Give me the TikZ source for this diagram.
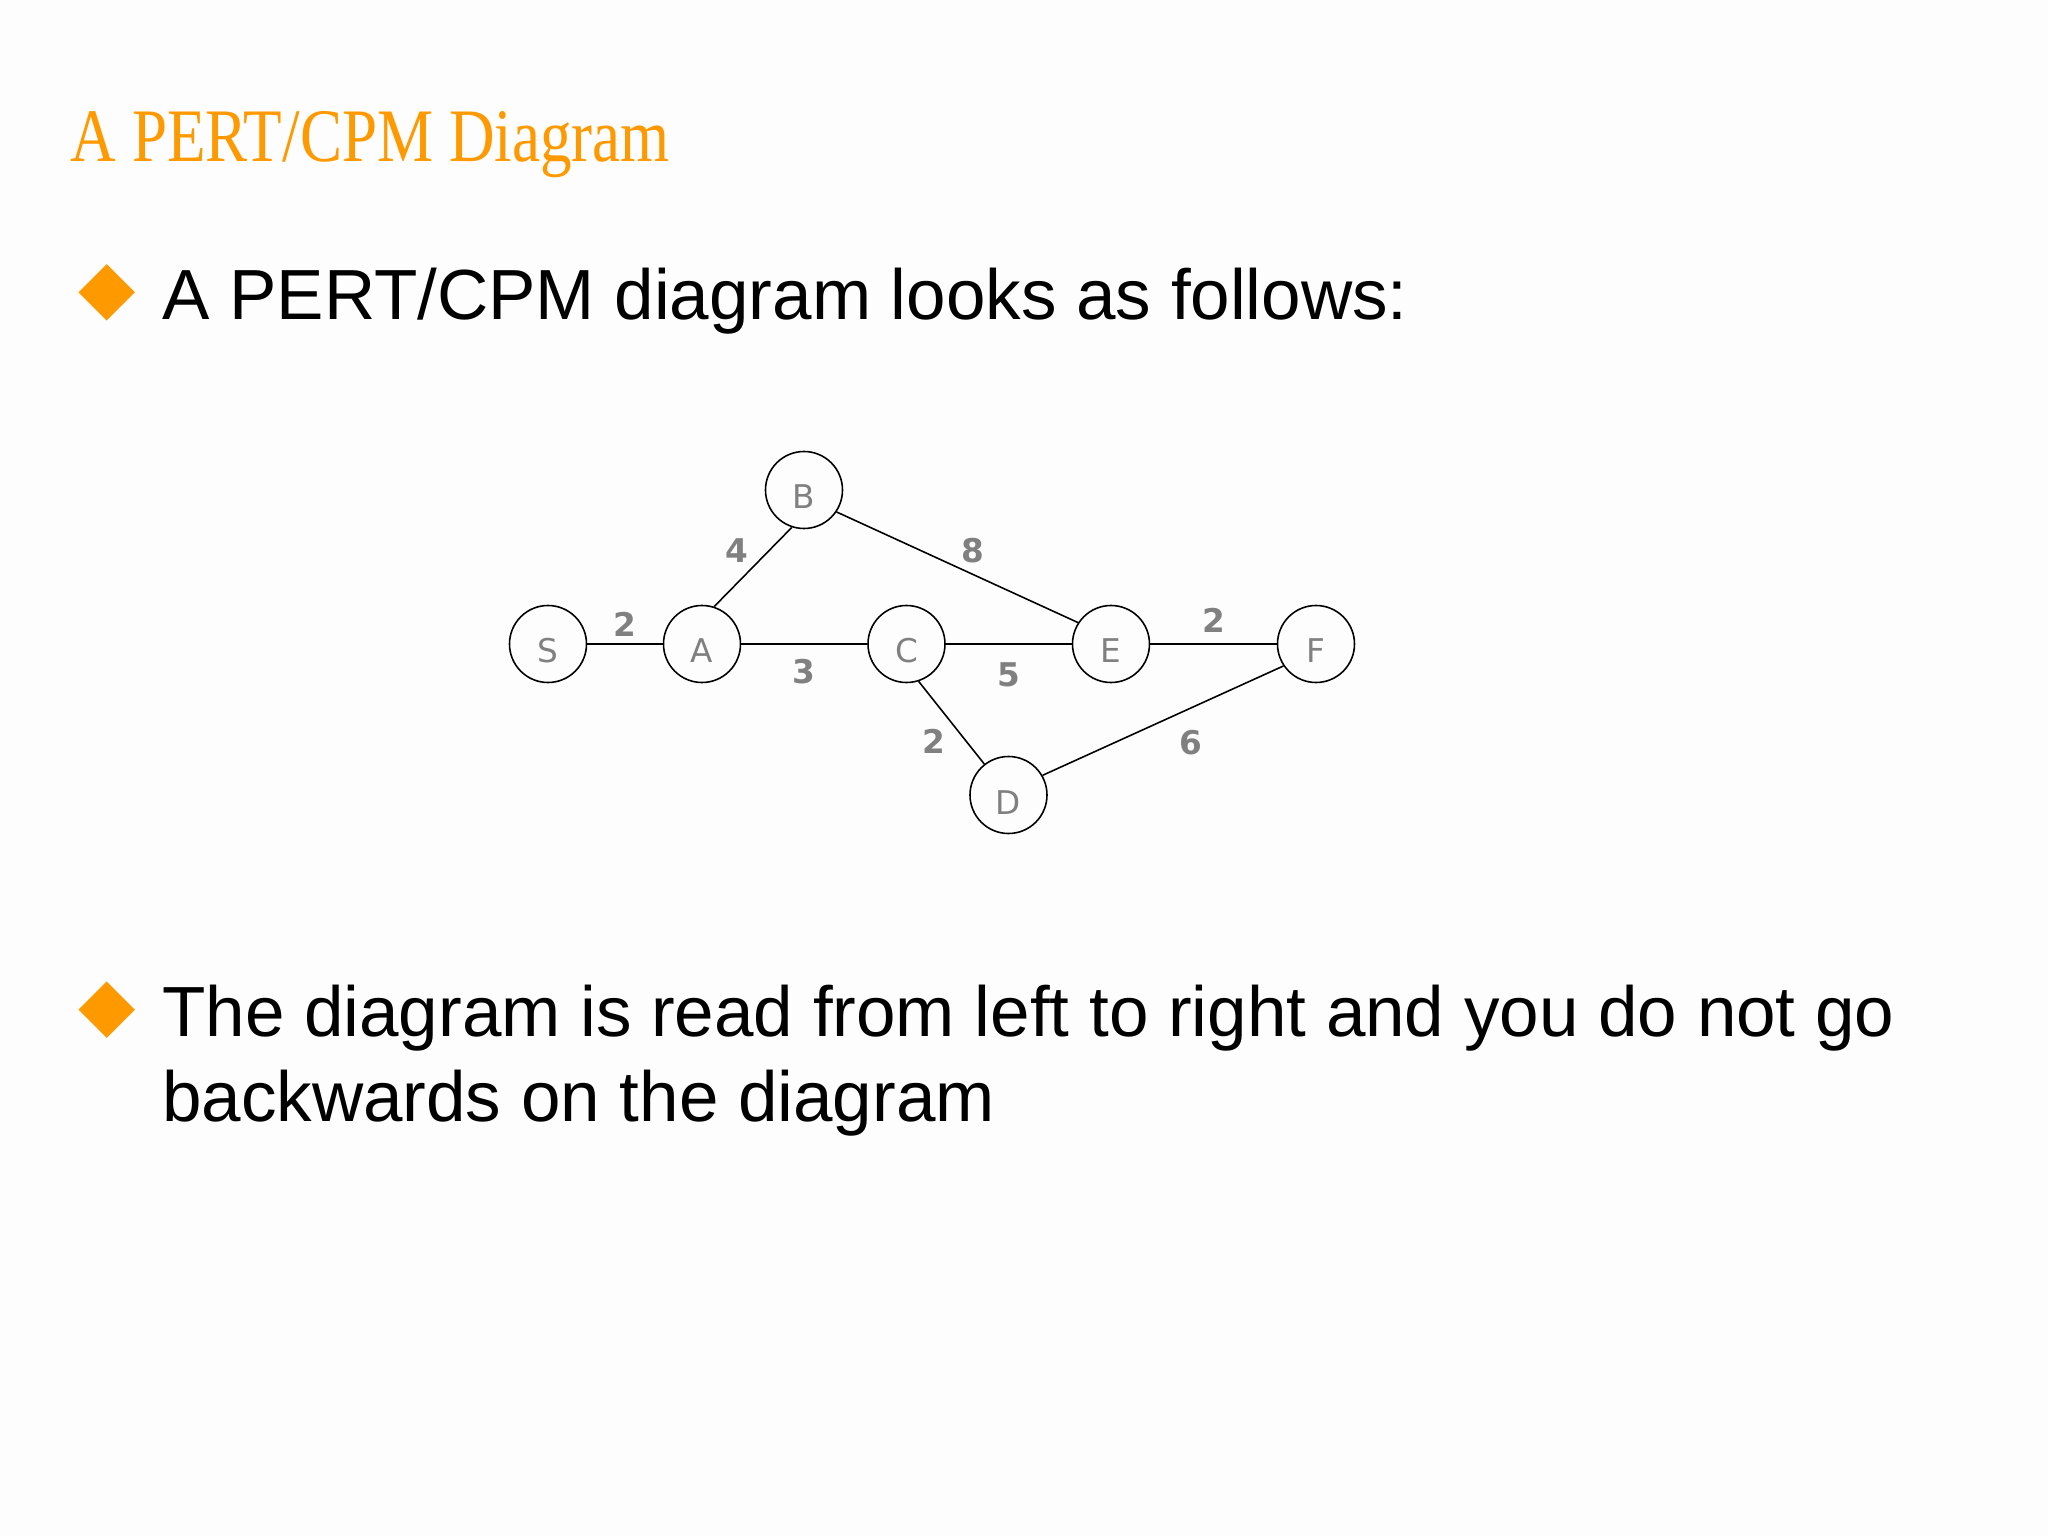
\documentclass[tikz,border=0pt]{standalone}
\usepackage{fontspec}
\usetikzlibrary{shapes.geometric}
\newfontfamily\titlefont{Liberation Serif}
\newfontfamily\bodyfont{Liberation Sans}
\newfontfamily\graphfont{DejaVu Sans}
\definecolor{bulletorange}{HTML}{FF9900}
\definecolor{labelgray}{HTML}{808080}
\definecolor{slidebg}{HTML}{FDFDFD}

\tikzstyle{event}=[draw=black,line width=0.45pt,circle,minimum size=0.77cm,inner sep=0pt,text height=0.38cm,text depth=0pt,text=labelgray,font=\graphfont\fontsize{9.3}{11}\selectfont]
\tikzstyle{weight}=[inner sep=1pt,text=labelgray,font=\graphfont\bfseries\fontsize{9.3}{11}\selectfont]
\tikzstyle{bulletmark}=[diamond,aspect=1,fill=bulletorange,minimum size=0.57cm,inner sep=0pt]
\tikzstyle{bodytext}=[anchor=base west,inner sep=0pt,font=\bodyfont\fontsize{20.2}{24.4}\selectfont]

\begin{document}
\begin{tikzpicture}
\fill[slidebg] (0,0) rectangle (20.48,-15.36);
\useasboundingbox (0,0) rectangle (20.48,-15.36);

% title
\node[anchor=base west,inner sep=0pt,text=bulletorange,font=\titlefont\fontsize{21.5}{26}\selectfont] (title) at (0.70,-1.617) {\scalebox{0.835}[1]{A PERT/CPM Diagram}};

% first bullet
\node[bulletmark] (bullet-1) at (1.067,-2.923) {};
\node[bodytext] (text-1) at (1.617,-3.193) {A PERT/CPM diagram looks as follows:};

% events of the diagram
\node[event] (S) at (5.48,-6.44) {S};
\node[event] (A) at (7.02,-6.44) {A};
\node[event] (B) at (8.04,-4.90) {B};
\node[event] (C) at (9.065,-6.44) {C};
\node[event] (D) at (10.085,-7.95) {D};
\node[event] (E) at (11.11,-6.44) {E};
\node[event] (F) at (13.16,-6.44) {F};

% activities with their durations
\draw[line width=0.45pt] (S) -- (A) node [weight,midway,above=1pt] {2};
\draw[line width=0.45pt] (A.72) -- (B.252) node [weight,midway,above left=0pt] {4};
\draw[line width=0.45pt] (A) -- (C) node [weight,midway,below=3pt] {3};
\draw[line width=0.45pt] (B.-34) -- (E.147) node [weight,midway,above right=0pt] {8};
\draw[line width=0.45pt] (C) -- (E) node [weight,midway,below=4pt] {5};
\draw[line width=0.45pt] (C.-72) -- (D.128) node [weight,midway,below left=0.5pt] {2};
\draw[line width=0.45pt] (E) -- (F) node [weight,midway,above=2pt] {2};
\draw[line width=0.45pt] (D.30) -- (F.214) node [weight,midway,below right=1.5pt,xshift=2pt] {6};

% second bullet
\node[bulletmark] (bullet-2) at (1.067,-10.097) {};
\node[bodytext] (text-2) at (1.615,-10.36) {The diagram is read from left to right and you do not go};
\node[bodytext] (text-3) at (1.615,-11.217) {backwards on the diagram};
\end{tikzpicture}
\end{document}
